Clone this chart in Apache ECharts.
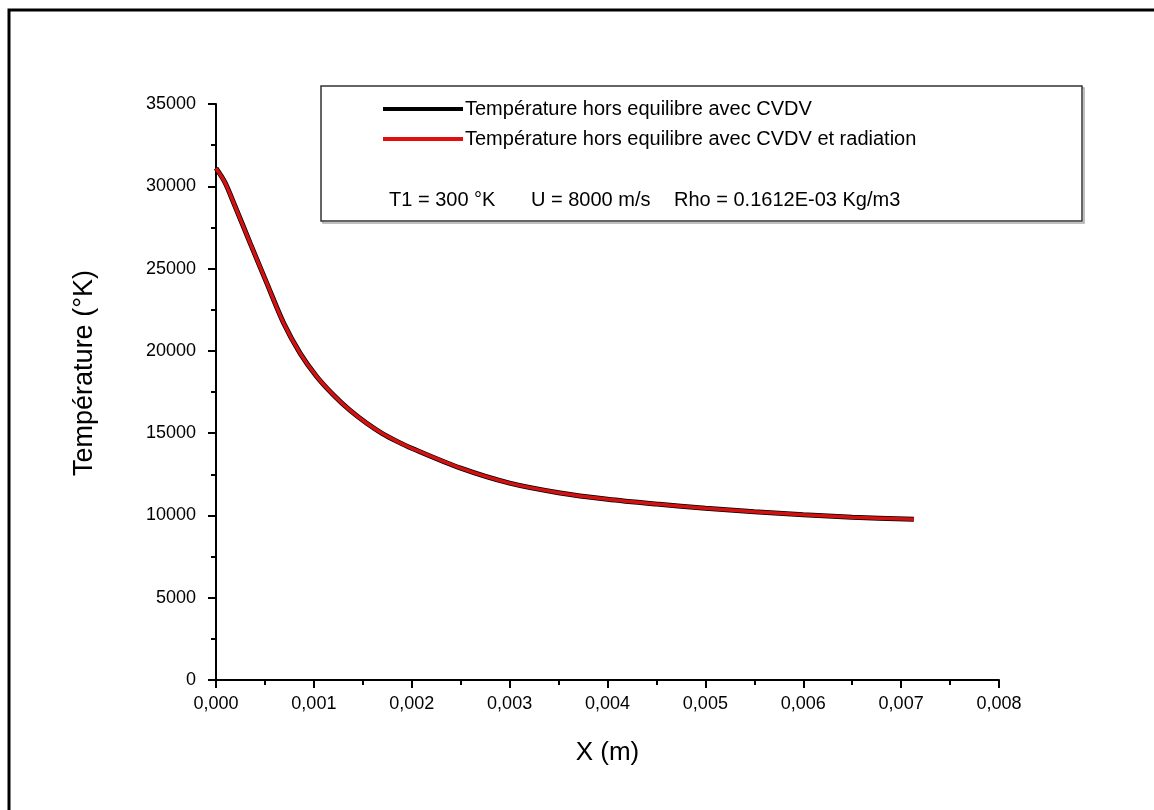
<!DOCTYPE html>
<html>
<head>
<meta charset="utf-8">
<script src="https://cdn.jsdelivr.net/npm/echarts@6/dist/echarts.min.js"></script>
<style>html,body{margin:0;padding:0;background:#fff}#c{width:1154px;height:810px}</style>
</head>
<body>
<div id="c"></div>
<script>
var xValues = [0, 0.00009, 0.00018, 0.00035, 0.00052, 0.00069, 0.00086, 0.00103, 0.0012, 0.00137, 0.00154, 0.0017, 0.00185, 0.002, 0.0025, 0.003, 0.0035, 0.004, 0.0045, 0.005, 0.0055, 0.006, 0.0065, 0.00713];
var tempCVDV = [31100, 30250, 29000, 26530, 24100, 21700, 19850, 18430, 17320, 16380, 15600, 14975, 14500, 14080, 12870, 11960, 11380, 10980, 10690, 10440, 10220, 10040, 9890, 9765];
var tempCVDVRad = [31100, 30250, 29000, 26530, 24100, 21700, 19850, 18430, 17320, 16380, 15600, 14975, 14500, 14080, 12870, 11960, 11380, 10980, 10690, 10440, 10220, 10040, 9890, 9765];
var seriesNames = ['Température hors equilibre avec CVDV', 'Température hors equilibre avec CVDV et radiation'];
var paramTexts = ['T1 = 300 °K', 'U = 8000 m/s', 'Rho = 0.1612E-03 Kg/m3'];

function pairs(xs, ys) { return xs.map(function (x, i) { return [x, ys[i]]; }); }

var chart = echarts.init(document.getElementById('c'), null, { renderer: 'canvas' });
var font = 'Arial, "Liberation Sans", sans-serif';
chart.setOption({
  backgroundColor: '#fff',
  animation: false,
  grid: { left: 216, top: 104, width: 783, height: 576, containLabel: false },
  xAxis: {
    type: 'value', min: 0, max: 0.008, interval: 0.001,
    name: 'X (m)', nameLocation: 'middle', nameGap: 60,
    nameTextStyle: { fontFamily: font, fontSize: 26, color: '#000' },
    axisLine: { onZero: false, lineStyle: { color: '#000', width: 2 } },
    axisTick: { show: true, length: 8, lineStyle: { color: '#000', width: 2 } },
    minorTick: { show: true, splitNumber: 2, length: 5, lineStyle: { color: '#000', width: 2 } },
    splitLine: { show: false },
    axisLabel: { fontFamily: font, fontSize: 18, color: '#000', margin: 15,
      formatter: function (v) { return v.toFixed(3).replace('.', ','); } }
  },
  yAxis: {
    type: 'value', min: 0, max: 35000, interval: 5000,
    name: 'Température (°K)', nameLocation: 'middle', nameGap: 118,
    nameTextStyle: { fontFamily: font, fontSize: 27, color: '#000', padding: [0, 0, 0, 38] },
    axisLine: { show: true, onZero: false, lineStyle: { color: '#000', width: 2 } },
    axisTick: { show: true, length: 8, lineStyle: { color: '#000', width: 2 } },
    minorTick: { show: true, splitNumber: 2, length: 5, lineStyle: { color: '#000', width: 2 } },
    splitLine: { show: false },
    axisLabel: { fontFamily: font, fontSize: 18, color: '#000', margin: 20,
      formatter: function (v) { return String(v); } }
  },
  legend: {
    orient: 'vertical', left: 378, top: 94, itemWidth: 80, itemHeight: 4, itemGap: 10,
    icon: 'rect',
    textStyle: { fontFamily: font, fontSize: 20, color: '#000', lineHeight: 20, padding: [0, 0, 0, -3] },
    data: seriesNames
  },
  graphic: [
    { type: 'rect', shape: { x: 9, y: 10, width: 1300, height: 1000 }, style: { fill: 'none', stroke: '#000', lineWidth: 3 }, silent: true, z: 100 },
    { type: 'rect', shape: { x: 323, y: 88, width: 761, height: 135 }, style: { fill: 'none', stroke: '#aaa', lineWidth: 1.5 }, silent: true },
    { type: 'rect', shape: { x: 321, y: 86, width: 761, height: 135 }, style: { fill: '#fff', stroke: '#333', lineWidth: 1.5 }, silent: true },
    { type: 'text', x: 389, y: 200, style: { text: paramTexts[0], font: '20px ' + font, fill: '#000', textVerticalAlign: 'middle' } },
    { type: 'text', x: 531, y: 200, style: { text: paramTexts[1], font: '20px ' + font, fill: '#000', textVerticalAlign: 'middle' } },
    { type: 'text', x: 674, y: 200, style: { text: paramTexts[2], font: '20px ' + font, fill: '#000', textVerticalAlign: 'middle' } }
  ],
  series: [
    { name: seriesNames[0], type: 'line', data: pairs(xValues, tempCVDV), showSymbol: false, smooth: 0.3,
      color: '#000', lineStyle: { color: '#000', width: 5 }, z: 2 },
    { name: seriesNames[1], type: 'line', data: pairs(xValues, tempCVDVRad), showSymbol: false, smooth: 0.3,
      color: '#e01010', lineStyle: { color: '#d41111', width: 3.5 }, z: 3 }
  ]
});
</script>
</body>
</html>
